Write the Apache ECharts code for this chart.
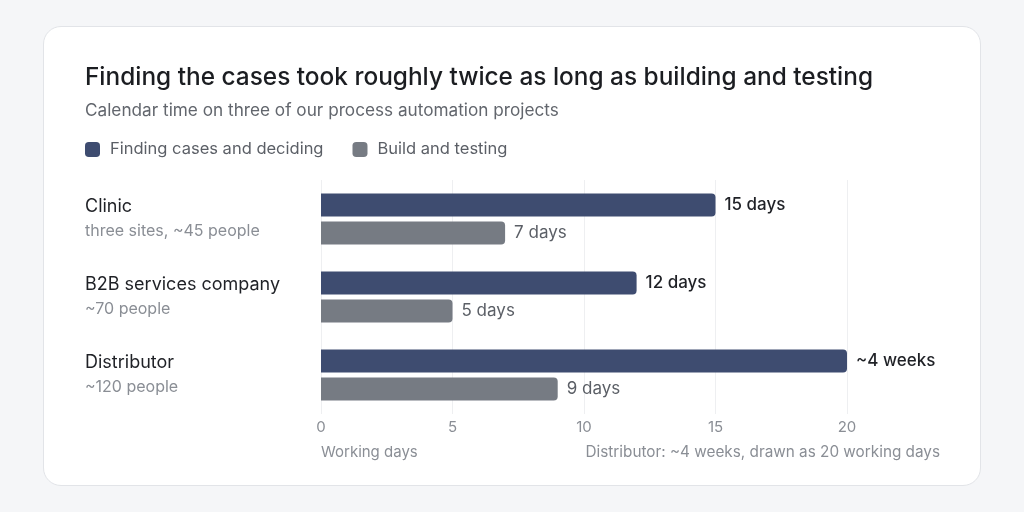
<!DOCTYPE html>
<html lang="en">
<head>
    <meta charset="UTF-8">
    <script src="https://cdn.jsdelivr.net/npm/echarts@6/dist/echarts.min.js"></script>
    <title>Finding the cases took roughly twice as long as building and testing</title>
    <style>
        html, body {
            margin: 0;
            padding: 0;
            background-color: #f5f6f8;
        }
        #card {
            position: absolute;
            left: 43px;
            top: 26px;
            width: 936px;
            height: 458px;
            background: #ffffff;
            border: 1px solid #e2e4e8;
            border-radius: 18px;
        }
        #chart {
            position: absolute;
            left: 0;
            top: 0;
            width: 1024px;
            height: 512px;
        }
    </style>
</head>
<body>

    <div id="card"></div>
    <div id="chart"></div>

    <script>
        var chart = echarts.init(document.getElementById('chart'));

        var categories = ['Clinic', 'B2B services company', 'Distributor'];
        var subLabels = ['three sites, ~45 people', '~70 people', '~120 people'];
        var findingDays = [15, 12, 20];
        var buildDays = [7, 5, 9];
        var findingLabels = ['15 days', '12 days', '~4 weeks'];
        var buildLabels = ['7 days', '5 days', '9 days'];
        var xTicks = [0, 5, 10, 15, 20];

        var font = 'Inter, "Noto Sans", sans-serif';

        var option = {
            backgroundColor: 'transparent',
            textStyle: { fontFamily: font },
            title: {
                text: 'Finding the cases took roughly twice as long as building and testing',
                subtext: 'Calendar time on three of our process automation projects',
                left: 80,
                top: 61,
                itemGap: 12,
                textStyle: { fontFamily: font, fontSize: 24.4, fontWeight: 500, color: '#1b1d21' },
                subtextStyle: { fontFamily: font, fontSize: 17.2, color: '#62666d' }
            },
            legend: {
                left: 80,
                top: 136,
                icon: 'roundRect',
                itemWidth: 15,
                itemHeight: 15,
                itemGap: 29,
                textStyle: { fontFamily: font, fontSize: 16.5, color: '#5b5f66', padding: [0, 0, 0, 5] },
                data: ['Finding cases and deciding', 'Build and testing']
            },
            grid: { left: 321, right: 177, top: 180, bottom: 98 },
            xAxis: {
                type: 'value',
                min: 0,
                max: 20,
                interval: 5,
                axisLine: { show: false },
                axisTick: { show: false },
                splitLine: { lineStyle: { color: '#eeeff1', width: 1 } },
                axisLabel: {
                    color: '#8a8e95',
                    fontSize: 15,
                    margin: 6,
                    formatter: function (v) { return xTicks.indexOf(v) >= 0 ? String(v) : ''; }
                }
            },
            yAxis: {
                type: 'category',
                inverse: true,
                data: categories,
                axisLine: { show: false },
                axisTick: { show: false },
                axisLabel: {
                    align: 'left',
                    margin: 236,
                    formatter: function (v, i) {
                        return '{name|' + v + '}\n{sub|' + subLabels[i] + '}';
                    },
                    rich: {
                        name: { fontFamily: font, fontSize: 18, color: '#1f2126', lineHeight: 24 },
                        sub: { fontFamily: font, fontSize: 16, color: '#8a8e95', lineHeight: 24 }
                    }
                }
            },
            series: [
                {
                    name: 'Finding cases and deciding',
                    type: 'bar',
                    data: findingDays,
                    barWidth: 23,
                    barGap: '22%',
                    itemStyle: { color: '#3e4c70', borderRadius: [0, 4, 4, 0] },
                    label: {
                        show: true,
                        position: 'right',
                        distance: 9,
                        fontSize: 17,
                        fontWeight: 500,
                        color: '#1f2126',
                        formatter: function (p) { return findingLabels[p.dataIndex]; }
                    }
                },
                {
                    name: 'Build and testing',
                    type: 'bar',
                    data: buildDays,
                    barWidth: 23,
                    itemStyle: { color: '#767b83', borderRadius: [0, 4, 4, 0] },
                    label: {
                        show: true,
                        position: 'right',
                        distance: 9,
                        fontSize: 17,
                        color: '#5b5f66',
                        formatter: function (p) { return buildLabels[p.dataIndex]; }
                    }
                }
            ],
            graphic: [
                {
                    type: 'text',
                    left: 321,
                    top: 445,
                    style: { text: 'Working days', fontFamily: font, fontSize: 15, fill: '#8a8e95' }
                },
                {
                    type: 'text',
                    right: 84,
                    top: 445,
                    style: { text: 'Distributor: ~4 weeks, drawn as 20 working days', fontFamily: font, fontSize: 15.3, fill: '#8a8e95' }
                }
            ]
        };

        chart.setOption(option);
    </script>

</body>
</html>
